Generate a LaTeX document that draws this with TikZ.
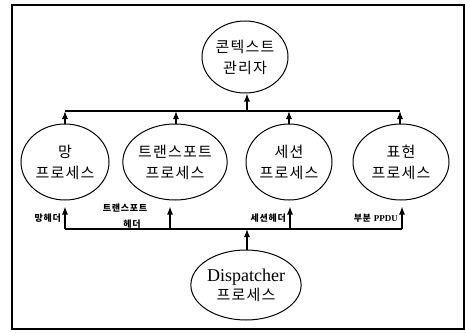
\documentclass[tikz,border=0pt]{standalone}
\usepackage{fontspec}
\setmainfont{Liberation Serif}
\newfontfamily\kr[LetterSpace=8]{Noto Sans CJK KR}
\newfontfamily\krs[LetterSpace=8]{Noto Sans CJK KR}
\usetikzlibrary{shapes.geometric,arrows.meta}
\begin{document}
\begin{tikzpicture}[x=1pt,y=-1pt,
  proc/.style={draw,line width=1pt,ellipse,inner sep=0pt,align=center,
    font=\kr\fontsize{15}{21}\selectfont},
  arr/.style={line width=1.1pt,-{Latex[length=8pt,width=6pt]}},
  bus/.style={line width=1.1pt},
  lbl/.style={inner sep=0pt,font=\krs\bfseries\fontsize{9}{10}\selectfont}]
\useasboundingbox (0,0) rectangle (465,332);
\draw[line width=1.2pt] (12,5) rectangle (464,329);
\node[proc,minimum width=86pt,minimum height=72pt] (ctx) at (245,57) {콘텍스트\\관리자};
\node[proc,minimum width=88pt,minimum height=76pt] (m) at (65,162) {망\\프로세스};
\node[proc,minimum width=96pt,minimum height=76pt] (t) at (175,162) {트랜스포트\\프로세스};
\node[proc,minimum width=86pt,minimum height=76pt] (s) at (289,162) {세션\\프로세스};
\node[proc,minimum width=96pt,minimum height=76pt] (p) at (401,162) {표현\\프로세스};
\node[proc,minimum width=106pt,minimum height=70pt] (d) at (246,285)
  {{\rmfamily\fontsize{18}{20}\selectfont Dispatcher}\\[-2pt]프로세스};
% top bus
\coordinate (tb1) at (65,111);
\coordinate (tb2) at (176,111);
\coordinate (tbc) at (247,111);
\coordinate (tb3) at (289,111);
\coordinate (tb4) at (400,111);
\draw[bus] (tb1) -- (tb4);
\draw[arr] (m.north -| tb1) -- (tb1);
\draw[arr] (t.north -| tb2) -- (tb2);
\draw[arr] (s.north -| tb3) -- (tb3);
\draw[arr] (p.north -| tb4) -- (tb4);
\draw[arr] (tbc) -- (ctx.south -| tbc);
% lower bus
\coordinate (lb1) at (65,229);
\coordinate (lb2) at (170,229);
\coordinate (lbc) at (247,229);
\coordinate (lb3) at (290,229);
\coordinate (lb4) at (402,229);
\draw[bus] (lb1) -- (lb4);
\draw[arr,shorten >=6pt] (lb1) -- (lb1 |- m.south);
\draw[arr,shorten >=6pt] (lb2) -- (lb2 |- t.south);
\draw[arr,shorten >=6pt] (lb3) -- (lb3 |- s.south);
\draw[arr,shorten >=6pt] (lb4) -- (lb4 |- p.south);
\draw[arr] (d.north -| lbc) -- (lbc);
% labels
\node[lbl,anchor=east] (l1) at (61,218) {망헤더};
\node[lbl] (l2a) at (125,208) {트랜스포트};
\node[lbl] (l2b) at (132,224) {헤더};
\node[lbl,anchor=east] (l3) at (286,218) {세션헤더};
\node[lbl,anchor=east] (l4) at (398,218) {부분 {\rmfamily PPDU}};
\end{tikzpicture}
\end{document}
